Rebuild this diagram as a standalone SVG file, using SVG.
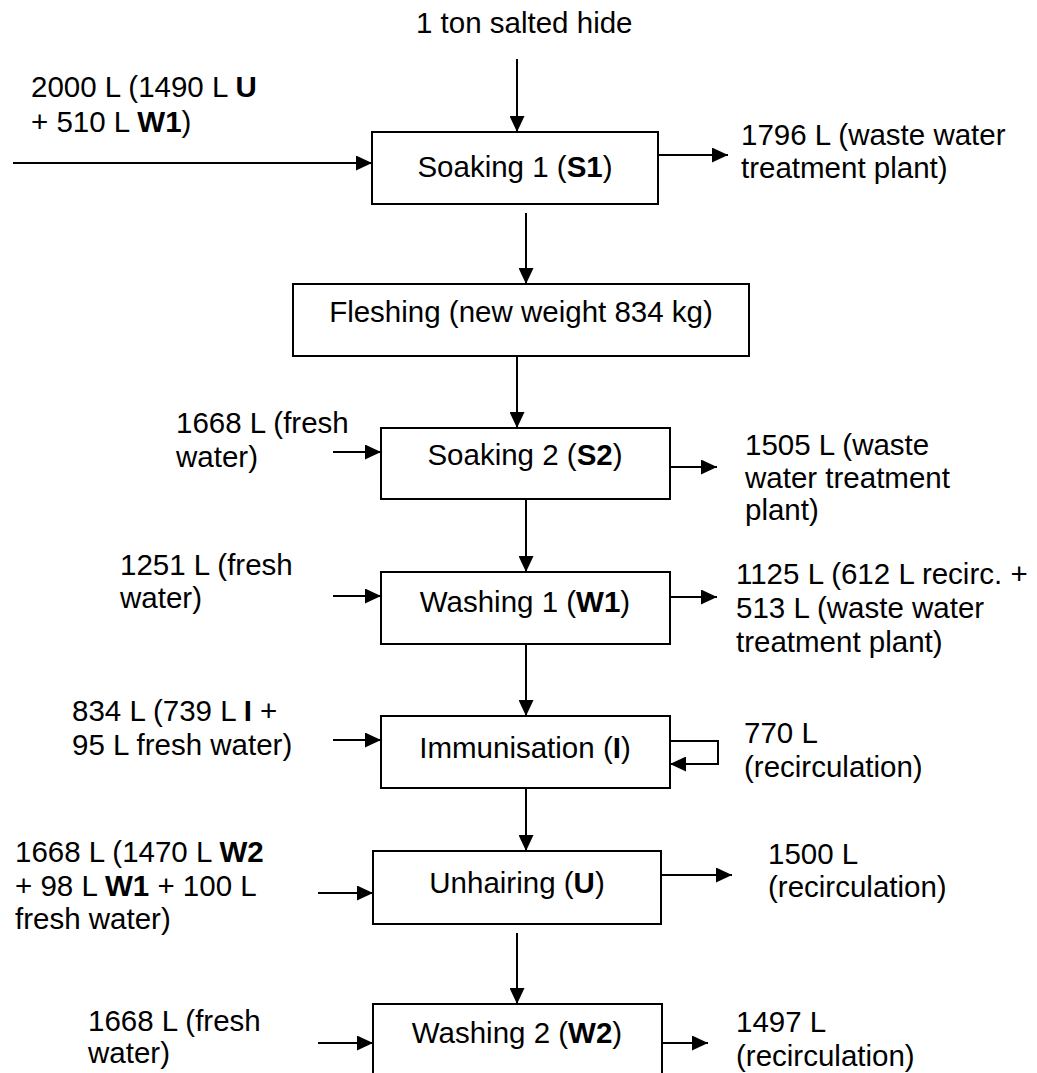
<svg xmlns="http://www.w3.org/2000/svg" width="1037" height="1073" viewBox="0 0 1037 1073">
  <style>
    text { font-family: "Liberation Sans", Arial, sans-serif; font-size: 29.5px; fill: #000; }
    .c { text-anchor: middle; }
    .b { font-weight: bold; }
    .box { fill: #fff; stroke: #000; stroke-width: 2; }
    .ln { fill: none; stroke: #000; stroke-width: 2; }
  </style>
  <defs>
    <marker id="ah" markerUnits="userSpaceOnUse" markerWidth="16" markerHeight="15" refX="16" refY="7.5" orient="auto">
      <path d="M0,0 L16,7.5 L0,15 Z" fill="#000"/>
    </marker>
  </defs>
  <rect width="1037" height="1073" fill="#fff"/>

  <g id="connectors">
    <line class="ln" x1="517" y1="59" x2="517" y2="132" marker-end="url(#ah)"/>
    <line class="ln" x1="13" y1="163" x2="372" y2="163" marker-end="url(#ah)"/>
    <line class="ln" x1="658" y1="155" x2="728" y2="155" marker-end="url(#ah)"/>
    <line class="ln" x1="526" y1="213" x2="526" y2="284" marker-end="url(#ah)"/>
    <line class="ln" x1="517" y1="356" x2="517" y2="428" marker-end="url(#ah)"/>
    <line class="ln" x1="333" y1="452" x2="381" y2="452" marker-end="url(#ah)"/>
    <line class="ln" x1="670" y1="467" x2="717" y2="467" marker-end="url(#ah)"/>
    <line class="ln" x1="526" y1="499" x2="526" y2="572" marker-end="url(#ah)"/>
    <line class="ln" x1="333" y1="596" x2="381" y2="596" marker-end="url(#ah)"/>
    <line class="ln" x1="670" y1="597" x2="717" y2="597" marker-end="url(#ah)"/>
    <line class="ln" x1="526" y1="644" x2="526" y2="716" marker-end="url(#ah)"/>
    <line class="ln" x1="333" y1="740" x2="381" y2="740" marker-end="url(#ah)"/>
    <polyline class="ln" points="670,741 718,741 718,764 670,764" marker-end="url(#ah)"/>
    <line class="ln" x1="526" y1="788" x2="526" y2="851" marker-end="url(#ah)"/>
    <line class="ln" x1="318" y1="893" x2="373" y2="893" marker-end="url(#ah)"/>
    <line class="ln" x1="661" y1="875" x2="732" y2="875" marker-end="url(#ah)"/>
    <line class="ln" x1="517" y1="933" x2="517" y2="1004" marker-end="url(#ah)"/>
    <line class="ln" x1="318" y1="1043" x2="373" y2="1043" marker-end="url(#ah)"/>
    <line class="ln" x1="662" y1="1043" x2="708" y2="1043" marker-end="url(#ah)"/>
  </g>

  <g id="input-hide">
    <text x="416" y="33">1 ton salted hide</text>
  </g>
  <g id="input-s1">
    <text x="31" y="97">2000 L (1490 L <tspan class="b">U</tspan></text>
    <text x="31" y="132">+ 510 L <tspan class="b">W1</tspan>)</text>
  </g>
  <g id="node-s1">
    <rect class="box" x="372" y="132" width="286" height="72"/>
    <text class="c" x="515" y="177">Soaking 1 (<tspan class="b">S1</tspan>)</text>
  </g>
  <g id="output-s1">
    <text x="741" y="145">1796 L (waste water</text>
    <text x="741" y="178">treatment plant)</text>
  </g>

  <g id="node-fleshing">
    <rect class="box" x="293" y="284" width="456" height="72"/>
    <text class="c" x="521" y="322">Fleshing (new weight 834 kg)</text>
  </g>

  <g id="input-s2">
    <text x="176" y="433">1668 L (fresh</text>
    <text x="176" y="467">water)</text>
  </g>
  <g id="node-s2">
    <rect class="box" x="381" y="428" width="289" height="71"/>
    <text class="c" x="525" y="465">Soaking 2 (<tspan class="b">S2</tspan>)</text>
  </g>
  <g id="output-s2">
    <text x="745" y="455">1505 L (waste</text>
    <text x="745" y="488">water treatment</text>
    <text x="745" y="520">plant)</text>
  </g>

  <g id="input-w1">
    <text x="120" y="575">1251 L (fresh</text>
    <text x="120" y="608">water)</text>
  </g>
  <g id="node-w1">
    <rect class="box" x="381" y="572" width="289" height="72"/>
    <text class="c" x="525" y="612">Washing 1 (<tspan class="b">W1</tspan>)</text>
  </g>
  <g id="output-w1">
    <text x="736" y="584">1125 L (612 L recirc. +</text>
    <text x="736" y="618">513 L (waste water</text>
    <text x="736" y="652">treatment plant)</text>
  </g>

  <g id="input-i">
    <text x="72" y="721">834 L (739 L <tspan class="b">I</tspan> +</text>
    <text x="72" y="755">95 L fresh water)</text>
  </g>
  <g id="node-i">
    <rect class="box" x="381" y="716" width="289" height="72"/>
    <text class="c" x="525" y="758">Immunisation (<tspan class="b">I</tspan>)</text>
  </g>
  <g id="output-i">
    <text x="744" y="743">770 L</text>
    <text x="744" y="777">(recirculation)</text>
  </g>

  <g id="input-u">
    <text x="15" y="862">1668 L (1470 L <tspan class="b">W2</tspan></text>
    <text x="15" y="896">+ 98 L <tspan class="b">W1</tspan> + 100 L</text>
    <text x="15" y="929">fresh water)</text>
  </g>
  <g id="node-u">
    <rect class="box" x="373" y="851" width="288" height="73"/>
    <text class="c" x="517" y="893">Unhairing (<tspan class="b">U</tspan>)</text>
  </g>
  <g id="output-u">
    <text x="768" y="864">1500 L</text>
    <text x="768" y="897">(recirculation)</text>
  </g>

  <g id="input-w2">
    <text x="88" y="1031">1668 L (fresh</text>
    <text x="88" y="1063">water)</text>
  </g>
  <g id="node-w2">
    <rect class="box" x="373" y="1004" width="289" height="100"/>
    <text class="c" x="517" y="1043">Washing 2 (<tspan class="b">W2</tspan>)</text>
  </g>
  <g id="output-w2">
    <text x="736" y="1032">1497 L</text>
    <text x="736" y="1066">(recirculation)</text>
  </g>
</svg>
